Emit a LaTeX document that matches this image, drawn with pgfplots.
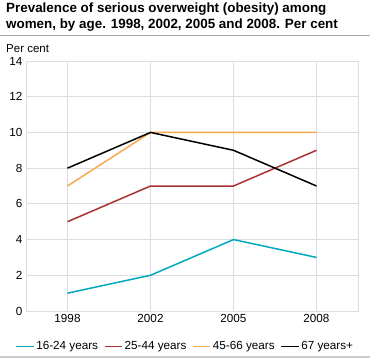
\documentclass[border=0pt]{standalone}
\usepackage{pgfplots}
\pgfplotsset{compat=1.18}
\usepackage{fontspec}
\setmainfont{Liberation Sans}
\definecolor{cteal}{RGB}{0,169,192}
\definecolor{cred}{RGB}{168,50,50}
\definecolor{corange}{RGB}{247,168,80}
\definecolor{cgrid}{RGB}{220,220,228}
\begin{document}
\begin{tikzpicture}[x=1pt,y=1pt]
\useasboundingbox (0,0) rectangle (370,-359);
\node[anchor=base west,font=\bfseries\fontsize{13.4}{16}\selectfont,inner sep=0] at (6,-12.5) {Prevalence of serious overweight (obesity) among};
\node[anchor=base west,font=\bfseries\fontsize{13.4}{16}\selectfont,inner sep=0] at (6,-28.5) {women, by age. 1998, 2002, 2005 and 2008. Per cent};
\draw[gray!70,line width=0.8pt] (0,-35) -- (370,-35);
\node[anchor=base west,font=\fontsize{11.5}{13}\selectfont,inner sep=0] at (6,-52) {Per cent};
\draw[gray!40,line width=2pt] (0,-357) -- (370,-357);
\begin{axis}[
  at={(26pt,-311pt)}, anchor=south west,
  scale only axis, width=332pt, height=250pt,
  xmin=-0.5, xmax=3.5, ymin=0, ymax=14,
  xtick={0,1,2,3}, xticklabels={1998,2002,2005,2008},
  ytick={0,2,...,14},
  grid=major, grid style={cgrid,line width=0.8pt},
  axis line style={cgrid,line width=0.8pt},
  tick style={draw=none},
  tick label style={font=\fontsize{11.7}{14}\selectfont},
  /pgf/number format/assume math mode=true,
  legend style={at={(0.48,-0.105)},anchor=north,draw=none,legend columns=4,font=\fontsize{11.7}{14}\selectfont,/tikz/every even column/.append style={column sep=4pt}},
  legend image post style={line width=1.5pt},
]
\addplot[cteal,line width=1.5pt,mark=none] coordinates {(0,1) (1,2) (2,4) (3,3)};
\addlegendentry{16-24 years}
\addplot[cred,line width=1.5pt,mark=none] coordinates {(0,5) (1,7) (2,7) (3,9)};
\addlegendentry{25-44 years}
\addplot[corange,line width=1.5pt,mark=none] coordinates {(0,7) (1,10) (2,10) (3,10)};
\addlegendentry{45-66 years}
\addplot[black,line width=1.5pt,mark=none] coordinates {(0,8) (1,10) (2,9) (3,7)};
\addlegendentry{67 years+}
\end{axis}
\end{tikzpicture}
\end{document}
